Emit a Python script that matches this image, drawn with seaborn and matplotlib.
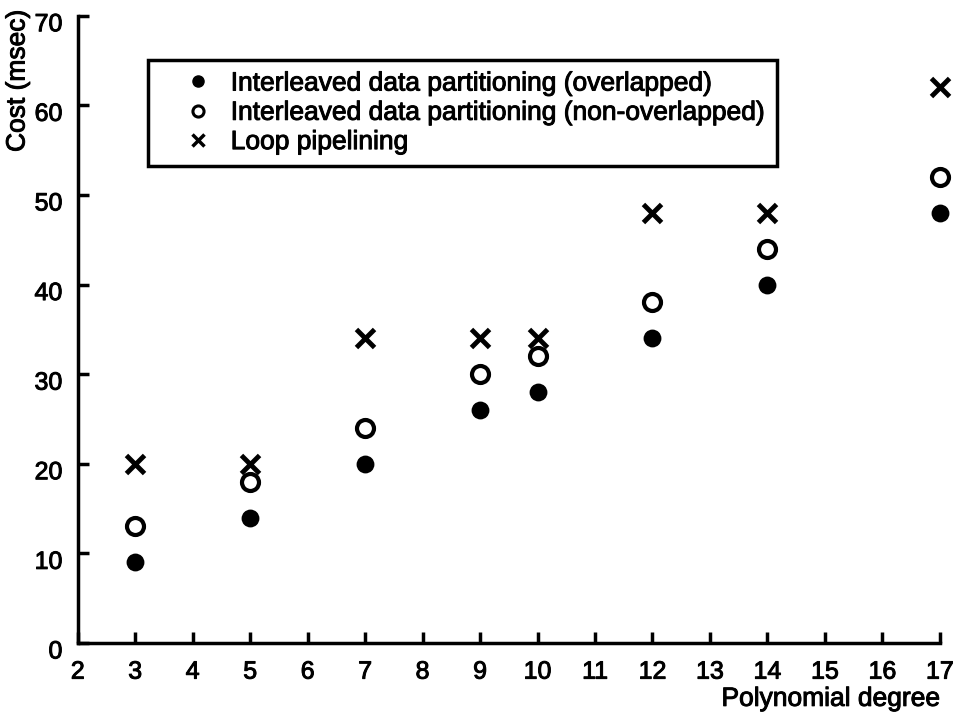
import matplotlib
matplotlib.use("Agg")
import matplotlib.pyplot as plt
import matplotlib.transforms as mtransforms
import matplotlib.patheffects as pe
from matplotlib.lines import Line2D
import seaborn as sns
import pandas as pd

degrees = [3, 5, 7, 9, 10, 12, 14, 17]
overlapped = [9, 14, 20, 26, 28, 34, 40, 48]
non_overlapped = [13, 18, 24, 30, 32, 38, 44, 52]
loop_pipelining = [20, 20, 34, 34, 34, 48, 48, 62]
labels = ["Interleaved data partitioning (overlapped)",
          "Interleaved data partitioning (non-overlapped)",
          "Loop pipelining"]
x_ticks = list(range(2, 18))
y_ticks = list(range(0, 71, 10))

sns.set_theme(style="white")
plt.rcParams["font.family"] = ["Liberation Sans", "DejaVu Sans"]
plt.rcParams["text.color"] = "black"
plt.rcParams["axes.labelcolor"] = "black"

df = pd.DataFrame({"deg": degrees, "ov": overlapped, "nov": non_overlapped, "lp": loop_pipelining})

fig = plt.figure(figsize=(9.6, 7.16), dpi=100)
ax = fig.add_axes([0.081, 0.102, 0.898, 0.876])

sns.scatterplot(data=df, x="deg", y="ov", ax=ax, marker="o", s=165, color="black",
                edgecolor="black", linewidth=0, clip_on=False, zorder=3)
sns.scatterplot(data=df, x="deg", y="nov", ax=ax, marker="o", s=150, facecolor="white",
                edgecolor="black", linewidth=3, clip_on=False, zorder=3)
sns.scatterplot(data=df, x="deg", y="lp", ax=ax, marker="x", s=170, color="black",
                linewidth=3.5, clip_on=False, zorder=3)

ax.set_xlim(2, 17)
ax.set_ylim(0, 70)
ax.set_xticks(x_ticks)
ax.set_yticks(y_ticks)
ax.tick_params(axis="both", direction="in", length=8, width=2.5, labelsize=18,
               colors="black", bottom=True, left=True)
ax.tick_params(axis="x", pad=12)
ax.tick_params(axis="y", pad=11)
for side in ["top", "right"]:
    ax.spines[side].set_visible(False)
for side in ["left", "bottom"]:
    ax.spines[side].set_linewidth(2.5)
    ax.spines[side].set_color("black")
ax.grid(False)

shift = mtransforms.ScaledTranslation(0, -6 / 100, fig.dpi_scale_trans)
for lab in ax.get_yticklabels():
    lab.set_transform(lab.get_transform() + shift)

ax.set_xlabel("Polynomial degree", fontsize=19, loc="right")
ax.xaxis.set_label_coords(1.0, -0.07)
ax.set_ylabel("Cost (msec)", fontsize=19, loc="top")
ax.yaxis.set_label_coords(-0.056, 1.01)

handles = [
    Line2D([], [], marker="o", linestyle="none", markersize=8, color="black"),
    Line2D([], [], marker="o", linestyle="none", markersize=8, markerfacecolor="white",
           markeredgecolor="black", markeredgewidth=2.2),
    Line2D([], [], marker="x", linestyle="none", markersize=8, color="black", markeredgewidth=2.5),
]
leg = ax.legend(handles, labels, loc="upper left", bbox_to_anchor=(0.081, 0.930),
                fontsize=19, frameon=True, fancybox=False, edgecolor="black",
                borderpad=0.45, handletextpad=-0.2, labelspacing=0.2, handlelength=2.9,
                borderaxespad=0)
leg.get_frame().set_linewidth(2.5)
leg.get_frame().set_alpha(1)

stroke = [pe.withStroke(linewidth=0.7, foreground="black")]
texts = list(leg.get_texts()) + list(ax.get_xticklabels()) + list(ax.get_yticklabels()) + \
    [ax.xaxis.label, ax.yaxis.label]
for t in texts:
    t.set_color("black")
    t.set_path_effects(stroke)

fig.savefig("out.png", dpi=100)
